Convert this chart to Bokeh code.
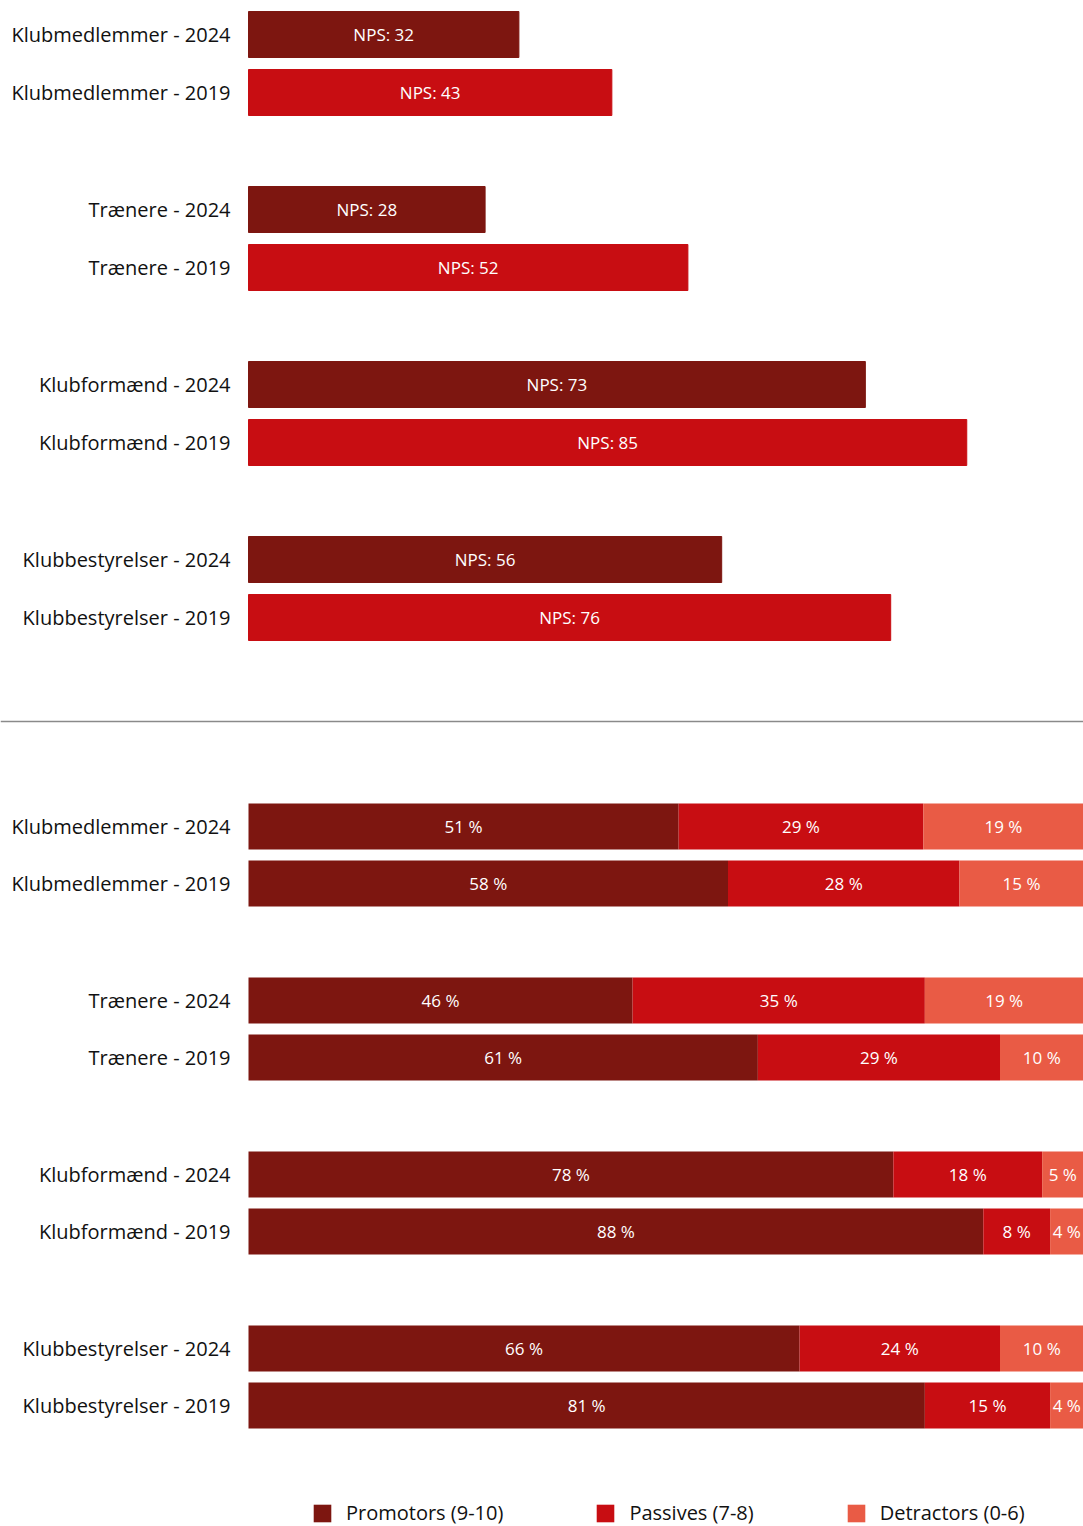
from bokeh.plotting import figure
from bokeh.models import Range1d, Span, Legend, LegendItem, ColumnDataSource
from bokeh.embed import file_html
from bokeh.resources import INLINE
from bokeh.core.properties import value

# ---------------- data ----------------
groups = ["Klubmedlemmer", "Trænere", "Klubformænd", "Klubbestyrelser"]
years = ["2024", "2019"]
nps_2024 = [32, 28, 73, 56]
nps_2019 = [43, 52, 85, 76]
promotors_2024 = [51, 46, 78, 66]
promotors_2019 = [58, 61, 88, 81]
passives_2024 = [29, 35, 18, 24]
passives_2019 = [28, 29, 8, 15]
detractors_2024 = [19, 19, 5, 10]
detractors_2019 = [15, 10, 4, 4]
legend_labels = ["Promotors (9-10)", "Passives (7-8)", "Detractors (0-6)"]

# ---------------- style ----------------
DARK = "#7D1610"
RED = "#C80D12"
CORAL = "#E95B45"
FONT = "Open Sans"
W, H = 1083, 1526
LEFT_PX = 248          # bar start inside the frame
NPS_PX = 8.45          # pixels per NPS point
BAR_H = 46

p = figure(width=W, height=H, output_backend="svg", toolbar_location=None,
           x_axis_location=None, y_axis_location=None, min_border=0,
           outline_line_color=None, tools="")
p.grid.visible = False
p.x_range = Range1d(-LEFT_PX / NPS_PX, (W - LEFT_PX) / NPS_PX)
p.y_range = Range1d(H, 0)
pct_px = (W - LEFT_PX) / 100.0
p.extra_x_ranges = {"pct": Range1d(-LEFT_PX / pct_px, 100)}

# ---------------- top: NPS ----------------
labels, ys_top, ys_bot, nps, cols = [], [], [], [], []
prom, pas, det = [], [], []
for g, name in enumerate(groups):
    for k, yr in enumerate(years):
        labels.append(f"{name} - {yr}")
        ys_top.append(34 + g * 175 + k * 58)
        ys_bot.append(826 + g * 174 + k * 57)
        if k == 0:
            nps.append(nps_2024[g]); cols.append(DARK)
            vals = (promotors_2024[g], passives_2024[g], detractors_2024[g])
        else:
            nps.append(nps_2019[g]); cols.append(RED)
            vals = (promotors_2019[g], passives_2019[g], detractors_2019[g])
        prom.append(vals[0]); pas.append(vals[1]); det.append(vals[2])

top = ColumnDataSource(dict(y=ys_top, v=nps, c=cols,
                            mid=[v / 2 for v in nps],
                            t=[f"NPS: {v}" for v in nps], lab=labels))
p.hbar(y="y", right="v", left=0, height=BAR_H, color="c", source=top)
p.text(x="mid", y="y", text="t", source=top, text_align="center",
       text_baseline="middle", text_color="white",
       text_font=value(FONT), text_font_size="17px")
p.text(x=0, y="y", text="lab", source=top, x_offset=-18, text_align="right",
       text_baseline="middle", text_color="#111111",
       text_font=value(FONT), text_font_size="20px")

# separator
p.add_layout(Span(location=721, dimension="width", line_color="#8a8a8a",
                  line_width=1.5))

# ---------------- bottom: stacked ----------------
tot = [a + b + c for a, b, c in zip(prom, pas, det)]
pn = [a * 100 / t for a, t in zip(prom, tot)]
sn = [b * 100 / t for b, t in zip(pas, tot)]
dn = [c * 100 / t for c, t in zip(det, tot)]
bot = ColumnDataSource(dict(y=ys_bot, prom=pn, pas=sn, det=dn, lab=labels))
rs = p.hbar_stack(["prom", "pas", "det"], y="y", height=BAR_H,
                  color=[DARK, RED, CORAL], source=bot, x_range_name="pct",
                  line_width=0)

seg_x, seg_y, seg_t = [], [], []
for i in range(len(labels)):
    start = 0
    for raw, v in zip((prom[i], pas[i], det[i]), (pn[i], sn[i], dn[i])):
        seg_x.append(start + v / 2); seg_y.append(ys_bot[i]); seg_t.append(f"{raw} %")
        start += v
seg = ColumnDataSource(dict(x=seg_x, y=seg_y, t=seg_t))
p.text(x="x", y="y", text="t", source=seg, x_range_name="pct",
       text_align="center", text_baseline="middle", text_color="white",
       text_font=value(FONT), text_font_size="17px")
p.text(x=0, y="y", text="lab", source=bot, x_offset=-18, text_align="right",
       text_baseline="middle", text_color="#111111",
       text_font=value(FONT), text_font_size="20px")

# ---------------- legend ----------------
legend = Legend(items=[LegendItem(label=l, renderers=[r]) for l, r in zip(legend_labels, rs)],
                orientation="horizontal", location=(311, 0),
                glyph_width=22, glyph_height=22, label_height=22,
                label_standoff=13, spacing=91, padding=0, margin=0,
                border_line_color=None, background_fill_alpha=0,
                label_text_font=FONT, label_text_font_size="20px",
                label_text_color="#111111")
p.add_layout(legend)

open("out.html", "w").write(file_html(p, INLINE))
